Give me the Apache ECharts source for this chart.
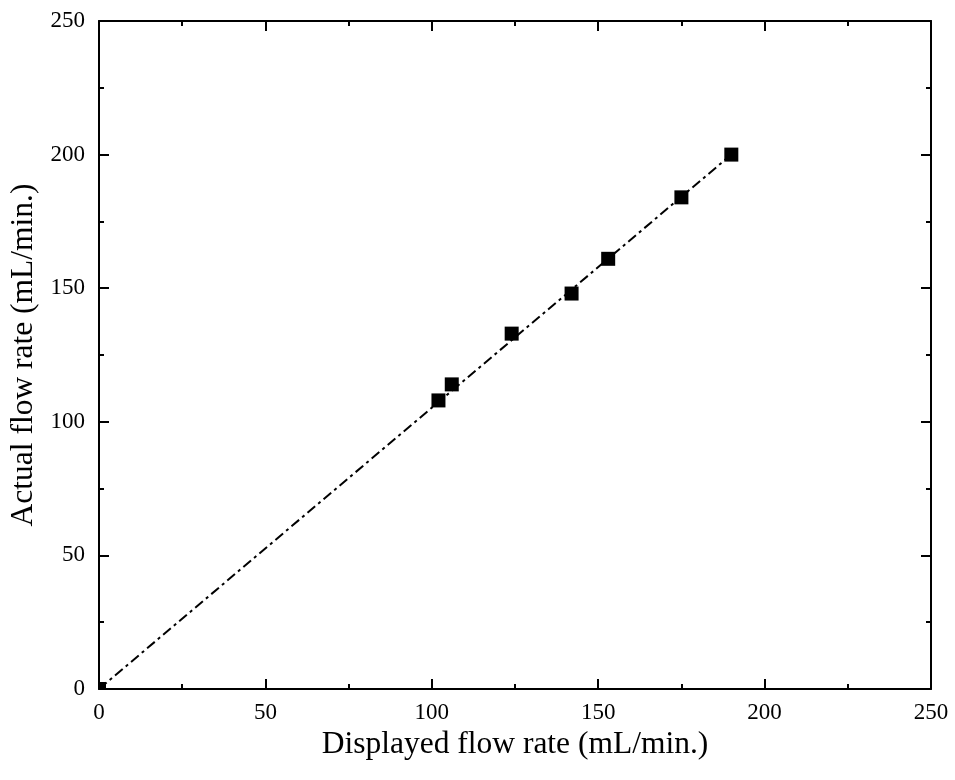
<!DOCTYPE html>
<html><head><meta charset="utf-8">
<script src="https://cdn.jsdelivr.net/npm/echarts@6/dist/echarts.min.js"></script>
<style>html,body{margin:0;padding:0;background:#fff}#c{width:955px;height:780px}</style>
</head><body><div id="c"></div>
<script>
const displayed = [0, 102, 106, 124, 142, 153, 175, 190];
const actual = [0, 108, 114, 133, 148, 161, 184, 200];
const fitX = [0, 190];
const fitY = [0, 200];
const xTitle = 'Displayed flow rate (mL/min.)';
const yTitle = 'Actual flow rate (mL/min.)';

const font = 'Liberation Serif';
const axisCommon = {
  min: 0, max: 250, interval: 50,
  axisLine: {show: true, onZero: false, lineStyle: {color: '#000', width: 2}},
  axisTick: {show: true, inside: true, length: 10, lineStyle: {color: '#000', width: 2}},
  minorTick: {show: true, splitNumber: 2, length: 5, lineStyle: {color: '#000', width: 2}},
  splitLine: {show: false}
};
const chart = echarts.init(document.getElementById('c'), null, {renderer: 'canvas'});
chart.setOption({
  animation: false,
  backgroundColor: '#fff',
  grid: {left: 99, top: 21, right: 24, bottom: 91, containLabel: false, outerBoundsMode: 'none'},
  xAxis: [
    Object.assign({}, axisCommon, {
      type: 'value', position: 'bottom',
      name: xTitle, nameLocation: 'middle', nameGap: 27,
      nameTextStyle: {fontFamily: font, fontSize: 31.5, color: '#000'},
      axisLabel: {fontFamily: font, fontSize: 23, color: '#000', margin: 12}
    }),
    Object.assign({}, axisCommon, {
      type: 'value', position: 'top', axisLabel: {show: false}
    })
  ],
  yAxis: [
    Object.assign({}, axisCommon, {
      type: 'value', position: 'left',
      name: yTitle, nameLocation: 'middle', nameGap: 59,
      nameTextStyle: {fontFamily: font, fontSize: 31.5, color: '#000'},
      axisLabel: {fontFamily: font, fontSize: 23, color: '#000', margin: 14}
    }),
    Object.assign({}, axisCommon, {
      type: 'value', position: 'right', axisLabel: {show: false}
    })
  ],
  series: [
    {
      type: 'line', xAxisIndex: 0, yAxisIndex: 0,
      data: fitX.map((x, i) => [x, fitY[i]]),
      showSymbol: false, symbol: 'none',
      lineStyle: {color: '#000', width: 2, type: [10, 4, 3, 4]},
      z: 2
    },
    {
      type: 'scatter', xAxisIndex: 0, yAxisIndex: 0,
      data: displayed.map((x, i) => {
        const item = {value: [x, actual[i]]};
        if (x === 0 && actual[i] === 0) {
          item.symbolSize = 7;
          item.symbolOffset = [3.5, -3.5];
        }
        return item;
      }),
      symbol: 'rect', symbolSize: 14, clip: true,
      itemStyle: {color: '#000', opacity: 1},
      z: 3
    }
  ]
});
</script></body></html>
